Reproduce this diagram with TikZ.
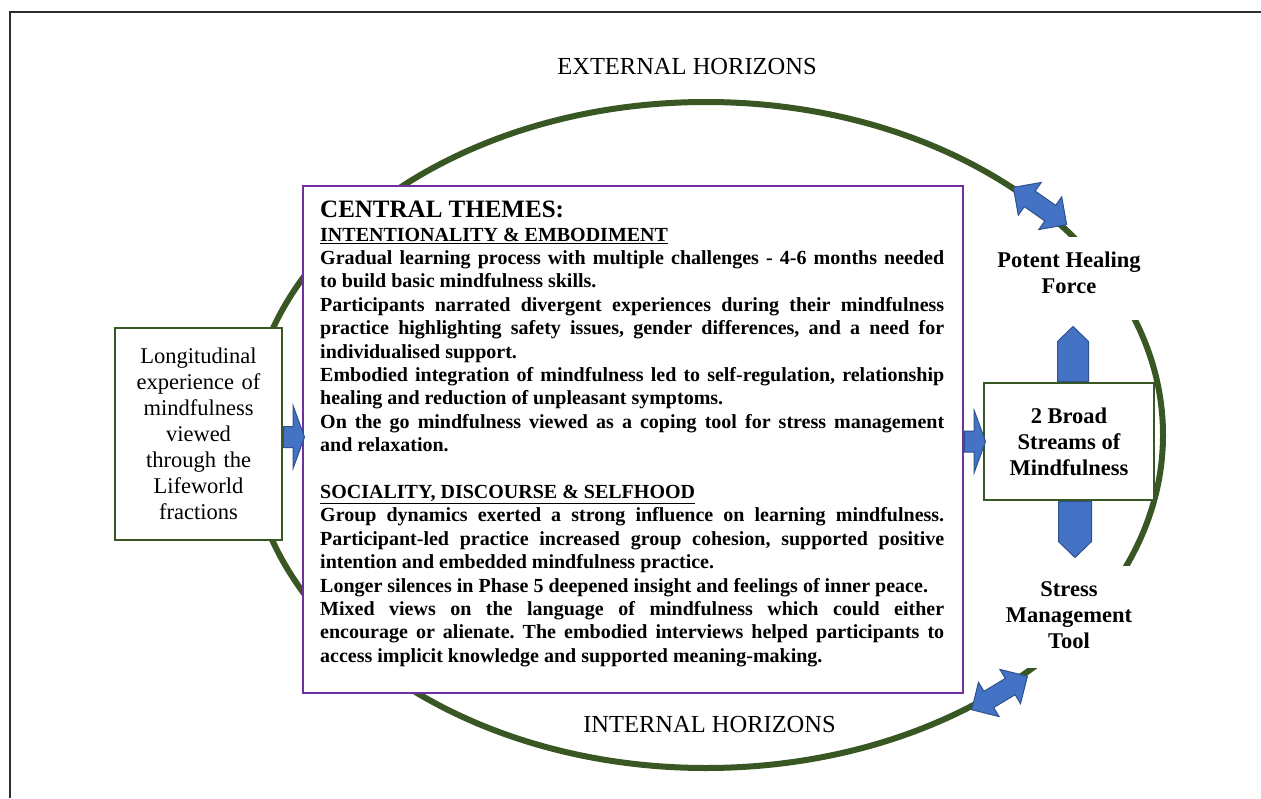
\documentclass[tikz,border=0pt]{standalone}
\usepackage{fontspec}
\setmainfont{Liberation Serif}
\usetikzlibrary{positioning}
\usetikzlibrary{shapes.arrows}

\definecolor{ringgreen}{RGB}{56,87,35}
\definecolor{themepurple}{RGB}{112,48,160}
\definecolor{arrowblue}{RGB}{68,114,196}
\definecolor{arrowedge}{RGB}{47,82,143}
\definecolor{framegray}{RGB}{45,45,45}

\tikzset{
  greenbox/.style={draw=ringgreen, line width=2pt, fill=white, align=center, inner sep=0pt},
  streamlabel/.style={align=center, inner sep=0pt, font=\fontsize{22.5}{26}\selectfont\bfseries},
  blockarrow/.style={single arrow, draw=arrowedge, fill=arrowblue, line width=1pt, inner sep=0pt},
  twoway/.style={double arrow, draw=arrowedge, fill=arrowblue, line width=1pt, inner xsep=0pt,
    inner ysep=9pt, minimum height=65pt, minimum width=39pt, double arrow head extend=10.5pt},
}

\begin{document}
\begin{tikzpicture}[x=1pt,y=-1pt]
\useasboundingbox (0,0) rectangle (1261,798);
% frame
\draw[framegray, line width=1.5pt] (10,798) -- (10,12) -- (1261,12);
% horizons
\draw[ringgreen, line width=6pt] (706,435) ellipse [x radius=457, y radius=333];
\node[font=\fontsize{24.5}{28}\selectfont] (ext) at (687,67) {EXTERNAL HORIZONS};
\node[font=\fontsize{24.5}{28}\selectfont] (int) at (709.5,724) {INTERNAL HORIZONS};

% left box
\node[greenbox, minimum width=167pt, minimum height=212pt, text width=160pt,
  font=\fontsize{22.5}{26}\selectfont] (lifeworld) at (198.5,434)
  {Longitudinal\\ experience of\\ mindfulness\\ viewed\\ through the\\ Lifeworld\\ fractions};

% central themes
\node[draw=themepurple, line width=2pt, fill=white, minimum width=660pt, minimum height=507pt,
  anchor=north west, inner sep=0pt] (themes) at (302,185) {};
\node[anchor=north west, text width=624pt, inner sep=0pt, align=justify,
  font=\fontsize{20}{23.4}\selectfont\bfseries] (themetext) at ([xshift=18pt,yshift=-16pt]themes.north west)
  {\frenchspacing\tolerance=10000 \hyphenpenalty=10000 \exhyphenpenalty=10000
  {\fontsize{25}{26}\selectfont CENTRAL THEMES:\par}
  \underline{INTENTIONALITY \& EMBODIMENT}\par
  Gradual learning process with multiple challenges - 4-6 months needed \linebreak
  to build basic mindfulness skills.\par
  Participants narrated divergent experiences during their mindfulness \linebreak
  practice highlighting safety issues, gender differences, and a need for \linebreak
  individualised support.\par
  Embodied integration of mindfulness led to self-regulation, relationship \linebreak
  healing and reduction of unpleasant symptoms.\par
  On the go mindfulness viewed as a coping tool for stress management \linebreak
  and relaxation.\par
  \vskip 23.4pt
  \underline{SOCIALITY, DISCOURSE \& SELFHOOD}\par
  Group dynamics exerted a strong influence on learning mindfulness. \linebreak
  Participant-led practice increased group cohesion, supported positive \linebreak
  intention and embedded mindfulness practice.\par
  Longer silences in Phase 5 deepened insight and feelings of inner peace.\par
  Mixed views on the language of mindfulness which could either \linebreak
  encourage or alienate. The embodied interviews helped participants to \linebreak
  access implicit knowledge and supported meaning-making.\par};

% right side, white gaps in the ring behind the labels
\fill[white] (984,237) rectangle (1154,320);
\fill[white] (984,566) rectangle (1154,668);
\node[greenbox, minimum width=170pt, minimum height=117pt,
  font=\fontsize{22.5}{26}\selectfont\bfseries] (streams) at (1069,441.5)
  {2 Broad\\ Streams of\\ Mindfulness};
\node[streamlabel] (potent) at (1069,273) {Potent Healing\\ Force};
\node[streamlabel] (stress) at (1069,615) {Stress\\ Management\\ Tool};

% block arrows
\node[blockarrow, anchor=tail, inner ysep=10pt, minimum height=21pt, minimum width=61pt,
  single arrow head extend=20.5pt, single arrow tip angle=140] (feedin) at ([yshift=-3pt]lifeworld.east) {};
\node[blockarrow, anchor=tail, inner ysep=10pt, minimum height=21pt, minimum width=61pt,
  single arrow head extend=20.5pt, single arrow tip angle=140] (feedout) at (themes.east |- streams.west) {};
\node[blockarrow, anchor=tail, rotate=90, minimum height=55pt, minimum width=31pt,
  single arrow head extend=0pt, single arrow tip angle=92] (healup) at ([xshift=4pt]streams.north) {};
\node[blockarrow, anchor=tail, rotate=-90, minimum height=56pt, minimum width=33pt,
  single arrow head extend=0pt, single arrow tip angle=92] (stressdown) at ([xshift=6pt]streams.south) {};
\node[twoway, rotate=-35] (exchtop) at (1040,206) {};
\node[twoway, rotate=31] (exchbot) at (999.5,693) {};
\end{tikzpicture}
\end{document}
